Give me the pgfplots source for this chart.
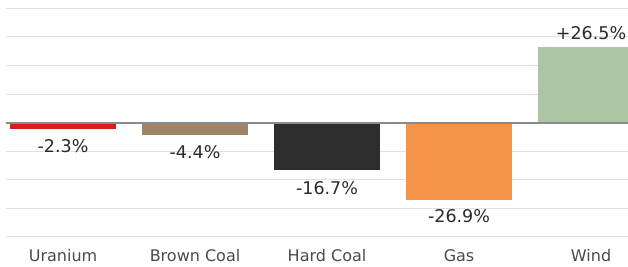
\documentclass[border=0pt]{standalone}
\usepackage{pgfplots}
\pgfplotsset{compat=1.18}
\usepackage{fontspec}
\setmainfont{DejaVu Sans}
\definecolor{cU}{HTML}{DD1C1C}
\definecolor{cB}{HTML}{A08468}
\definecolor{cH}{HTML}{2D2D2D}
\definecolor{cG}{HTML}{F6934B}
\definecolor{cW}{HTML}{ADC5A4}
\definecolor{gridgray}{HTML}{E0E0E0}
\definecolor{zerogray}{HTML}{8A8A8A}
\definecolor{valtext}{HTML}{2A2A2A}
\definecolor{cattext}{HTML}{4A4A4A}
\begin{document}
\begin{tikzpicture}
\begin{axis}[
  name=ax,
  scale only axis, width=622pt, height=228.7pt,
  xmin=-0.432, xmax=4.28, ymin=-40, ymax=40,
  axis line style={draw=none},
  major tick length=0pt,
  ytick={-40,-30,...,40}, yticklabel=\empty,
  ymajorgrids, grid style={draw=gridgray, line width=1pt},
  xtick={0,1,2,3,4},
  xticklabels={Uranium,Brown Coal,Hard Coal,Gas,Wind},
  xticklabel style={anchor=base, yshift=-24.7pt, font=\fontsize{16}{19}\selectfont, text=cattext},
  ybar, bar width=106pt,
  point meta=explicit symbolic,
  nodes near coords,
  every node near coord/.append style={anchor=center, font=\fontsize{17.5}{20}\selectfont, text=valtext},
]
\addplot[fill=cU, draw=none, bar shift=0pt, every node near coord/.append style={yshift=-16.5pt}] coordinates {(0,-2.3) [-2.3\%]};
\addplot[fill=cB, draw=none, bar shift=0pt, every node near coord/.append style={yshift=-16.5pt}] coordinates {(1,-4.4) [-4.4\%]};
\addplot[fill=cH, draw=none, bar shift=0pt, every node near coord/.append style={yshift=-17.5pt}] coordinates {(2,-16.7) [-16.7\%]};
\addplot[fill=cG, draw=none, bar shift=0pt, every node near coord/.append style={yshift=-17pt}] coordinates {(3,-26.9) [-26.9\%]};
\addplot[fill=cW, draw=none, bar shift=0pt, every node near coord/.append style={yshift=14pt}] coordinates {(4,26.5) [+26.5\%]};
\draw[zerogray, line width=2pt] (axis cs:-0.432,0) -- (axis cs:4.28,0);
\end{axis}
\pgfresetboundingbox
\path ([shift={(-6pt,-30pt)}]ax.south west) rectangle ([shift={(0pt,8.3pt)}]ax.north east);
\end{tikzpicture}
\end{document}
